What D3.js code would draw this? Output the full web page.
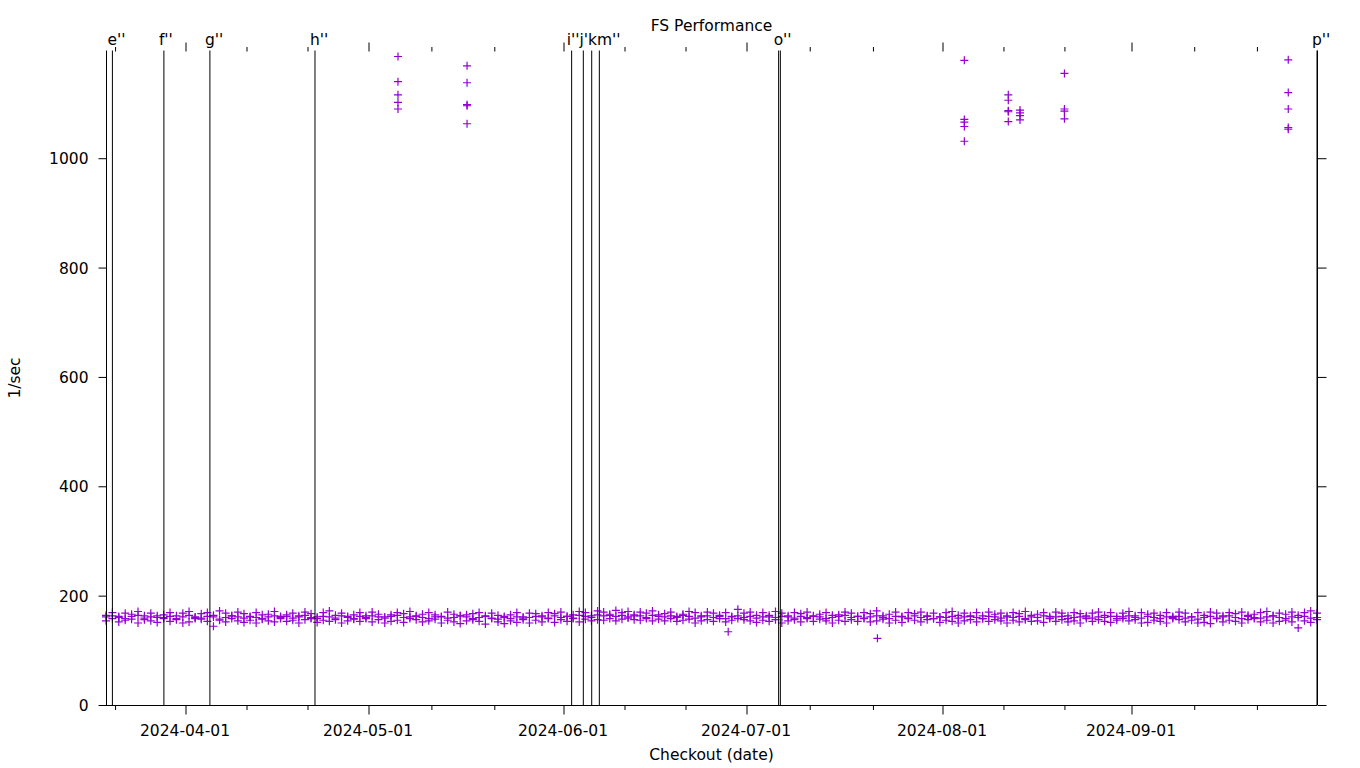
<!DOCTYPE html>
<html>
<head>
<meta charset="utf-8">
<script src="https://cdn.jsdelivr.net/npm/d3@7"></script>
<style>
  html, body { margin: 0; padding: 0; background: #fff; }
  svg text { font-family: "DejaVu Sans", sans-serif; fill: #000; }
</style>
</head>
<body>
<svg id="chart" width="1360" height="768"></svg>
<script>
// ---------------- DATA ----------------
const title = "FS Performance";
const xTitle = "Checkout (date)";
const yTitle = "1/sec";

const firstCheckout = "2024-03-19T14:00Z";
const lastCheckout  = "2024-09-30T14:00Z";

// month tick labels (major) and 11th / 21st minor ticks
const monthTicks = ["2024-04-01","2024-05-01","2024-06-01","2024-07-01","2024-08-01","2024-09-01"];
const minorTicks = ["2024-03-21","2024-04-11","2024-04-21","2024-05-11","2024-05-21","2024-06-11",
                    "2024-06-21","2024-07-11","2024-07-21","2024-08-11","2024-08-21","2024-09-11","2024-09-21"];
const yTicks = [0, 200, 400, 600, 800, 1000];
const yMax = 1197;

// one value per daily checkout, starting at firstCheckout (three runs per checkout)
const runA = [
161,163,160,158,162,164,159,161,163,160,
162,158,161,164,160,159,162,161,157,160,
163,161,159,162,160,158,161,163,160,162,
159,161,164,160,158,162,161,159,163,160,
158,162,160,163,161,159,162,164,160,161,
163,160,158,161,162,159,160,163,161,158,
160,162,159,157,160,158,161,159,160,162,
161,159,163,160,162,158,164,162,160,165,
163,166,162,164,161,165,163,160,164,162,
161,163,160,164,162,159,161,163,160,162,
158,161,163,160,162,159,161,164,160,162,
161,159,162,160,163,161,158,160,162,164,
160,162,159,161,163,160,158,162,161,159,
163,160,162,158,161,160,162,159,161,163,
160,158,162,161,159,163,160,162,158,161,
160,163,159,161,162,158,160,161,163,159,
161,160,162,158,161,163,160,159,162,160,
158,161,160,162,159,161,157,160,162,159,
161,163,160,158,162,160,159,161,163,160,
158,161,160,162,159,160];
const runB = [
164,169,162,168,166,171,163,168,160,165,
169,163,168,171,161,167,169,164,172,168,
163,170,167,161,169,165,166,171,162,165,
168,163,170,167,161,169,172,164,168,162,
165,169,163,170,166,161,165,169,167,171,
162,166,169,165,161,170,166,163,165,167,
169,163,168,164,162,165,169,161,168,167,
163,169,167,170,162,165,171,169,163,172,
170,164,173,169,171,163,170,168,172,165,
167,170,162,166,171,169,163,170,168,164,
169,162,175,168,170,164,169,161,171,168,
163,169,167,170,162,166,169,164,165,170,
168,162,169,167,172,163,166,170,162,169,
167,170,163,168,161,169,171,164,168,162,
169,163,170,166,168,161,169,167,171,164,
166,169,162,170,168,163,169,167,161,168,
170,164,169,162,168,171,163,169,166,168,
164,169,162,170,168,161,169,164,170,168,
163,169,167,170,164,166,169,171,163,168,
166,170,164,169,172,168];
const runC = [
154,158,152,155,157,150,156,154,151,158,
153,156,150,152,158,157,153,144,155,152,
158,154,151,155,150,157,154,152,158,153,
155,150,156,158,151,155,153,156,150,154,
157,153,158,152,156,150,153,155,151,158,
156,152,154,157,150,155,152,149,154,156,
153,148,158,152,149,154,151,156,150,155,
152,158,151,156,153,159,152,157,154,156,
155,158,154,157,159,156,155,158,154,157,
154,158,153,155,157,150,154,156,153,158,
152,155,158,156,154,151,155,153,156,150,
154,156,152,158,153,157,154,150,155,153,
156,153,158,152,154,157,150,155,151,158,
155,152,156,158,151,155,153,150,154,156,
152,158,153,156,154,150,155,152,156,153,
154,151,158,153,156,152,154,150,158,153,
156,153,151,155,158,154,156,150,151,155,
153,150,158,156,152,155,150,151,149,158,
152,155,153,150,156,158,152,155,150,153,
155,152,141,154,151,156];

// outlier checkouts (date, value)
const outlierDates  = [
"2024-05-05T16:30Z","2024-05-05T16:30Z","2024-05-05T16:30Z","2024-05-05T16:30Z","2024-05-05T16:30Z",
"2024-05-16T16:00Z","2024-05-16T16:00Z","2024-05-16T16:00Z","2024-05-16T16:00Z","2024-05-16T16:00Z",
"2024-06-28T00:00Z","2024-07-21T17:00Z",
"2024-08-04T14:00Z","2024-08-04T14:00Z","2024-08-04T14:00Z","2024-08-04T14:00Z","2024-08-04T14:00Z",
"2024-08-11T19:00Z","2024-08-11T19:00Z","2024-08-11T19:00Z","2024-08-11T19:00Z","2024-08-11T19:00Z",
"2024-08-13T17:00Z","2024-08-13T17:00Z","2024-08-13T17:00Z","2024-08-13T17:00Z",
"2024-08-21T00:00Z","2024-08-21T00:00Z","2024-08-21T00:00Z","2024-08-21T00:00Z",
"2024-09-26T00:00Z","2024-09-26T00:00Z","2024-09-26T00:00Z","2024-09-26T00:00Z","2024-09-26T00:00Z"];
const outlierValues = [
1186,1140,1116,1102,1090,
1169,1138,1098,1096,1063,
134,122,
1179,1071,1066,1058,1031,
1116,1106,1087,1085,1067,
1088,1083,1078,1070,
1155,1090,1086,1072,
1180,1120,1090,1056,1053];

// release markers (vertical lines); the i..m labels run together as one text in the chart
const markerLabels = ["e''","f''","g''","h''","i''j'km''","","","","o''","","p''"];
const markerDates  = ["2024-03-20T14:00Z","2024-03-28T15:00Z","2024-04-05T00:00Z","2024-04-22T05:30Z",
                      "2024-06-02T08:00Z","2024-06-04T06:00Z","2024-06-05T15:00Z","2024-06-06T21:00Z",
                      "2024-07-06T02:00Z","2024-07-06T08:30Z","2024-09-30T14:00Z"];

// ---------------- CHART ----------------
const svg = d3.select("#chart");
const L = 106, R = 1317, T = 50.5, B = 705;
const FONT = 15.5;
const purple = "#9400d3";
const dt = s => new Date(s.length === 10 ? s + "T00:00Z" : s);

const x = d3.scaleUtc()
  .domain([dt(firstCheckout), ...monthTicks.map(dt), dt(lastCheckout)])
  .range([L, 185.5, 368.5, 563.5, 746.5, 942.5, 1131.5, R]);
const y = d3.scaleLinear().domain([0, yMax]).range([B, T]);

// points
const pts = [];
[runA, runB, runC].forEach(run => run.forEach((v, i) => {
  pts.push({ d: d3.utcDay.offset(dt(firstCheckout), i), v });
}));
outlierDates.forEach((d, i) => pts.push({ d: dt(d), v: outlierValues[i] }));

svg.append("g").selectAll("path").data(pts).join("path")
  .attr("transform", p => `translate(${x(p.d)},${y(p.v)})`)
  .attr("d", "M-4,0H4M0,-4V4")
  .attr("stroke", purple).attr("stroke-width", 1.2).attr("fill", "none");

// borders (bottom, left, right)
const border = svg.append("g").attr("stroke", "#000").attr("stroke-width", 1).attr("fill", "none");
border.append("line").attr("x1", L).attr("x2", R).attr("y1", B + 0.5).attr("y2", B + 0.5);
border.append("line").attr("x1", L + 0.5).attr("x2", L + 0.5).attr("y1", T).attr("y2", B);
border.append("line").attr("x1", R + 0.5).attr("x2", R + 0.5).attr("y1", T).attr("y2", B);

// marker lines
const mk = svg.append("g");
markerDates.forEach((d, i) => {
  const xx = x(dt(d));
  mk.append("line").attr("x1", xx).attr("x2", xx).attr("y1", T).attr("y2", B)
    .attr("stroke", "#000").attr("stroke-width", 1);
  if (markerLabels[i]) {
    mk.append("text").attr("x", xx - 5).attr("y", 45)
      .attr("font-size", FONT).text(markerLabels[i]);
  }
});

// x axes (bottom + mirrored top), ticks outward
const xMajor = monthTicks.map(dt), xMinor = minorTicks.map(dt);
const xb = svg.append("g").attr("transform", `translate(0,${B + 0.5})`)
  .call(d3.axisBottom(x).tickValues(xMajor).tickSize(9).tickSizeOuter(0).tickPadding(10)
        .tickFormat(d3.utcFormat("%Y-%m-%d")));
const xbm = svg.append("g").attr("transform", `translate(0,${B + 0.5})`)
  .call(d3.axisBottom(x).tickValues(xMinor).tickSize(4.5).tickSizeOuter(0).tickFormat(""));
const xt = svg.append("g").attr("transform", `translate(0,${T + 1})`)
  .call(d3.axisTop(x).tickValues(xMajor).tickSize(9).tickSizeOuter(0).tickFormat(""));
const xtm = svg.append("g").attr("transform", `translate(0,${T + 1})`)
  .call(d3.axisTop(x).tickValues(xMinor).tickSize(4.5).tickSizeOuter(0).tickFormat(""));

// y axes (left + mirrored right), ticks outward
const yl = svg.append("g").attr("transform", `translate(${L + 0.5},0)`)
  .call(d3.axisLeft(y).tickValues(yTicks).tickSize(8).tickSizeOuter(0).tickPadding(10).tickFormat(d3.format("d")));
const yr = svg.append("g").attr("transform", `translate(${R + 0.5},0)`)
  .call(d3.axisRight(y).tickValues(yTicks).tickSize(9).tickSizeOuter(0).tickFormat(""));

[xb, xbm, xt, xtm, yl, yr].forEach(g => {
  g.select(".domain").remove();
  g.selectAll("line").attr("stroke", "#000");
  g.selectAll("text").attr("font-size", FONT).attr("font-family", "DejaVu Sans").attr("fill", "#000");
});
xb.selectAll("text").attr("dy", null).attr("y", 0).attr("transform", "translate(-1,30.5)");
yl.selectAll("text").attr("x", -18).attr("dy", "0.35em");

// titles
svg.append("text").attr("x", (L + R) / 2).attr("y", 31).attr("text-anchor", "middle")
  .attr("font-size", FONT).text(title);
svg.append("text").attr("x", (L + R) / 2).attr("y", 759.5).attr("text-anchor", "middle")
  .attr("font-size", FONT).text(xTitle);
svg.append("text").attr("transform", "translate(20,378) rotate(-90)").attr("text-anchor", "middle")
  .attr("font-size", FONT).text(yTitle);
</script>
</body>
</html>
